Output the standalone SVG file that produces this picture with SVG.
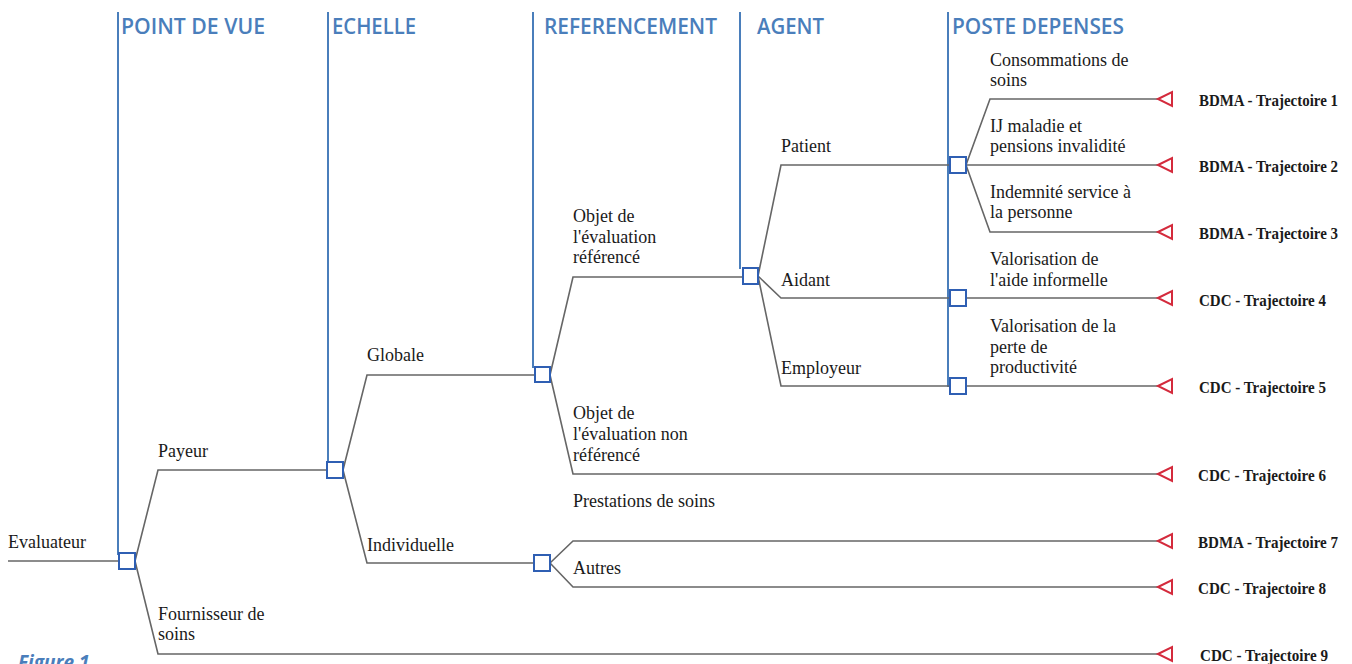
<svg xmlns="http://www.w3.org/2000/svg" width="1352" height="664" viewBox="0 0 1352 664">
<style>
.hdr{font-family:"Open Sans","Liberation Sans",sans-serif;font-weight:600;font-size:21px;fill:#4a7ebb}
.axis{stroke:#4a7ebb;stroke-width:2;fill:none}
.t{font-family:"Liberation Serif","Times New Roman",serif;font-size:18px;fill:#1a1a1a}
.lbl{font-family:"Liberation Serif","Times New Roman",serif;font-size:16px;font-weight:bold;fill:#1a1a1a}
.c{stroke:#666;stroke-width:1.6;fill:none}
.node{stroke:#2f5fb3;stroke-width:2;fill:#fff}
.end{stroke:#d42a3c;stroke-width:2;fill:#fff}
.fig{font-family:"Open Sans","Liberation Sans",sans-serif;font-style:italic;font-weight:bold;font-size:19px;fill:#4a7ebb}
</style>
<rect width="1352" height="664" fill="#fff"/>

<g id="headers">
<line class="axis" x1="118" y1="12" x2="118" y2="555"/>
<line class="axis" x1="328" y1="12" x2="328" y2="463"/>
<line class="axis" x1="533" y1="12" x2="533" y2="368"/>
<line class="axis" x1="740" y1="12" x2="740" y2="269"/>
<line class="axis" x1="948" y1="12" x2="948" y2="387"/>
<text class="hdr" x="121" y="34" textLength="144" lengthAdjust="spacingAndGlyphs">POINT DE VUE</text>
<text class="hdr" x="332" y="34" textLength="84" lengthAdjust="spacingAndGlyphs">ECHELLE</text>
<text class="hdr" x="544" y="34" textLength="173" lengthAdjust="spacingAndGlyphs">REFERENCEMENT</text>
<text class="hdr" x="757" y="34" textLength="67" lengthAdjust="spacingAndGlyphs">AGENT</text>
<text class="hdr" x="952" y="34" textLength="172" lengthAdjust="spacingAndGlyphs">POSTE DEPENSES</text>
</g>

<g id="connectors">
<path class="c" d="M8,561 H119"/>
<path class="c" d="M135,561 L158,470 H327"/>
<path class="c" d="M135,561 L158,654 H1158"/>
<path class="c" d="M343,470 L367,375 H535"/>
<path class="c" d="M343,470 L367,563 H534"/>
<path class="c" d="M550,375 L573,277 H743"/>
<path class="c" d="M550,375 L573,474 H1158"/>
<path class="c" d="M550,563 L573,541 H1158"/>
<path class="c" d="M550,563 L573,587 H1158"/>
<path class="c" d="M758,276 L781,165 H950"/>
<path class="c" d="M758,276 L781,298 H950"/>
<path class="c" d="M758,276 L781,386 H950"/>
<path class="c" d="M966,165 L990,99 H1158"/>
<path class="c" d="M966,165 H1158"/>
<path class="c" d="M966,165 L990,232 H1158"/>
<path class="c" d="M966,298 H1158"/>
<path class="c" d="M966,386 H1158"/>
</g>

<g id="node-evaluateur"><rect class="node" x="119" y="553" width="16" height="16"/><text class="t" x="8" y="548">Evaluateur</text></g>
<g id="node-payeur"><rect class="node" x="327" y="462" width="16" height="16"/><text class="t" x="158" y="457">Payeur</text></g>
<g id="node-fournisseur"><text class="t" x="158" y="620">Fournisseur de</text><text class="t" x="158" y="640">soins</text></g>
<g id="node-globale"><rect class="node" x="535" y="367" width="15" height="15"/><text class="t" x="367" y="361">Globale</text></g>
<g id="node-individuelle"><rect class="node" x="534" y="555" width="16" height="16"/><text class="t" x="367" y="551">Individuelle</text></g>
<g id="node-objet-ref"><rect class="node" x="743" y="268" width="15" height="16"/><text class="t" x="573" y="222">Objet de</text><text class="t" x="573" y="243">l'évaluation</text><text class="t" x="573" y="263">référencé</text></g>
<g id="node-objet-nonref"><text class="t" x="573" y="419">Objet de</text><text class="t" x="573" y="440">l'évaluation non</text><text class="t" x="573" y="461">référencé</text></g>
<g id="node-prestations"><text class="t" x="573" y="507">Prestations de soins</text></g>
<g id="node-autres"><text class="t" x="573" y="574">Autres</text></g>
<g id="node-patient"><rect class="node" x="950" y="157" width="16" height="16"/><text class="t" x="781" y="152">Patient</text></g>
<g id="node-aidant"><rect class="node" x="950" y="290" width="16" height="16"/><text class="t" x="781" y="286">Aidant</text></g>
<g id="node-employeur"><rect class="node" x="950" y="378" width="16" height="16"/><text class="t" x="781" y="374">Employeur</text></g>
<g id="node-consommations"><text class="t" x="990" y="66">Consommations de</text><text class="t" x="990" y="86">soins</text></g>
<g id="node-ij"><text class="t" x="990" y="132">IJ maladie et</text><text class="t" x="990" y="152">pensions invalidité</text></g>
<g id="node-indemnite"><text class="t" x="990" y="198">Indemnité service à</text><text class="t" x="990" y="218">la personne</text></g>
<g id="node-aide-informelle"><text class="t" x="990" y="265">Valorisation de</text><text class="t" x="990" y="286">l'aide informelle</text></g>
<g id="node-productivite"><text class="t" x="990" y="332">Valorisation de la</text><text class="t" x="990" y="353">perte de</text><text class="t" x="990" y="373">productivité</text></g>

<g id="end-1"><path class="end" d="M1158,99 L1172,92 V106 Z"/><text class="lbl" x="1199" y="106" textLength="139" lengthAdjust="spacingAndGlyphs">BDMA - Trajectoire 1</text></g>
<g id="end-2"><path class="end" d="M1158,165 L1172,158 V172 Z"/><text class="lbl" x="1199" y="172" textLength="139" lengthAdjust="spacingAndGlyphs">BDMA - Trajectoire 2</text></g>
<g id="end-3"><path class="end" d="M1158,232 L1172,225 V239 Z"/><text class="lbl" x="1199" y="239" textLength="139" lengthAdjust="spacingAndGlyphs">BDMA - Trajectoire 3</text></g>
<g id="end-4"><path class="end" d="M1158,298 L1172,291 V305 Z"/><text class="lbl" x="1199" y="306" textLength="127" lengthAdjust="spacingAndGlyphs">CDC - Trajectoire 4</text></g>
<g id="end-5"><path class="end" d="M1158,386 L1172,379 V393 Z"/><text class="lbl" x="1199" y="393" textLength="127" lengthAdjust="spacingAndGlyphs">CDC - Trajectoire 5</text></g>
<g id="end-6"><path class="end" d="M1158,474 L1172,467 V481 Z"/><text class="lbl" x="1198" y="481" textLength="128" lengthAdjust="spacingAndGlyphs">CDC - Trajectoire 6</text></g>
<g id="end-7"><path class="end" d="M1158,541 L1172,534 V548 Z"/><text class="lbl" x="1198" y="548" textLength="140" lengthAdjust="spacingAndGlyphs">BDMA - Trajectoire 7</text></g>
<g id="end-8"><path class="end" d="M1158,587 L1172,580 V594 Z"/><text class="lbl" x="1198" y="594" textLength="128" lengthAdjust="spacingAndGlyphs">CDC - Trajectoire 8</text></g>
<g id="end-9"><path class="end" d="M1158,654 L1172,647 V661 Z"/><text class="lbl" x="1200" y="661" textLength="128" lengthAdjust="spacingAndGlyphs">CDC - Trajectoire 9</text></g>

<text class="fig" x="18" y="669">Figure 1</text>
</svg>
